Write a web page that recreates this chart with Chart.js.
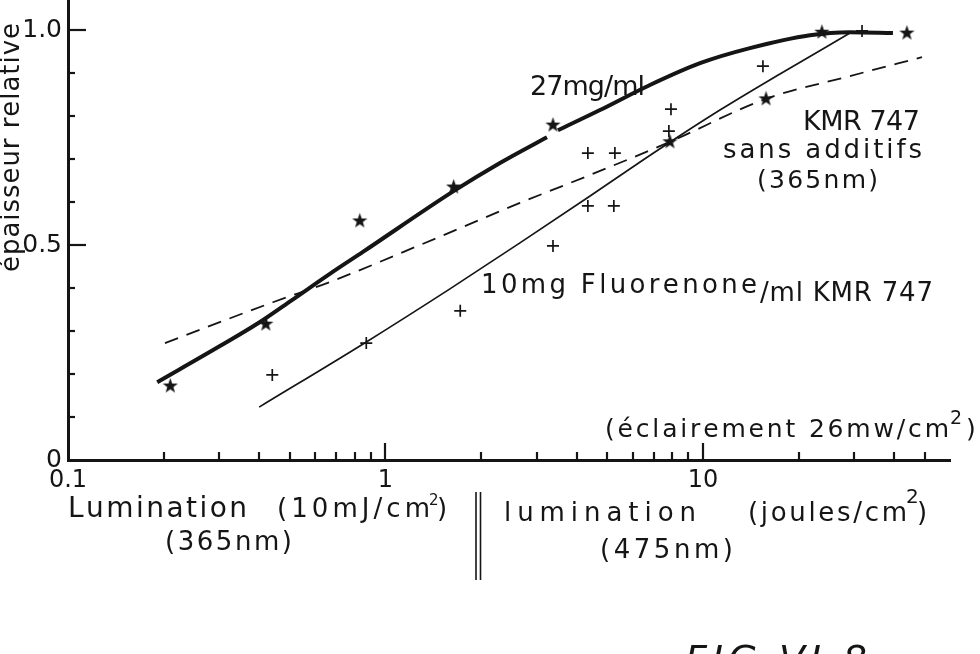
<!DOCTYPE html>
<html>
<head>
<meta charset="utf-8">
<script src="https://cdn.jsdelivr.net/npm/chart.js@4"></script>
<style>
  body { margin: 0; background: #fff; }
  canvas { display: block; }
</style>
</head>
<body>
<canvas id="fig" width="980" height="654"></canvas>
<script>
// Épaisseur relative vs lumination (log scale)

// 27 mg/ml : measured points (stars) and drawn curve
const starX27 = [0.21, 0.42, 0.83, 1.64, 3.37, 23.7, 43.9];
const starY27 = [0.172, 0.316, 0.556, 0.635, 0.779, 0.995, 0.993];
const curveX27 = [0.191, 0.301, 0.4025, 0.5075, 0.668, 0.849, 1.643, 2.294, 3.226, 3.35, 3.494, 4.74, 6.71, 9.79, 14.06, 21.73, 29.04, 39.67];
const curveY27 = [0.181, 0.265, 0.321, 0.372, 0.433, 0.484, 0.626, 0.691, 0.751, null, 0.767, 0.814, 0.870, 0.923, 0.958, 0.988, 0.995, 0.993];

// KMR 747 sans additifs (365 nm) : dashed curve and its stars
const starXKmr = [7.87, 15.8];
const starYKmr = [0.740, 0.840];
const curveXKmr = [0.202, 0.442, 0.668, 1.284, 2.652, 4.41, 7.87, 15.79, 29.04, 48.97];
const curveYKmr = [0.272, 0.367, 0.414, 0.500, 0.598, 0.663, 0.740, 0.840, 0.893, 0.937];

// 10 mg Fluorenone / ml KMR 747 : crosses and thin curve
const crossX = [0.44, 0.87, 1.72, 3.37, 4.34, 5.24, 4.34, 5.28, 7.93, 7.81, 15.45, 31.7];
const crossY = [0.198, 0.272, 0.347, 0.498, 0.591, 0.591, 0.714, 0.714, 0.816, 0.765, 0.916, 0.998];
const curveXFluo = [0.400, 0.868, 1.596, 2.652, 4.41, 7.22, 11.31, 17.48, 29.04];
const curveYFluo = [0.123, 0.274, 0.398, 0.505, 0.614, 0.721, 0.814, 0.898, 0.993];

// axes
const xTicks = [0.1, 0.2, 0.3, 0.4, 0.5, 0.6, 0.7, 0.8, 0.9, 1, 2, 3, 4, 5, 6, 7, 8, 9, 10, 20, 30, 40, 50];
const xMajor = [1, 10];
const xTickLabels = {0.1: "0.1", 1: "1", 10: "10"};
const yTicks = [0, 0.1, 0.2, 0.3, 0.4, 0.5, 0.6, 0.7, 0.8, 0.9, 1.0];
const yMajor = [0.5, 1.0];
const yTickLabels = {0: "0", 0.5: "0.5", 1: "1.0"};

const FONT = '"DejaVu Sans", sans-serif';
const INK = "#151515";

function pts(xs, ys) {
    return xs.map((x, i) => ({x: x, y: ys[i]}));
}

// filled five-point star marker
const starImg = document.createElement("canvas");
starImg.width = 17;
starImg.height = 17;
(function () {
    const c = starImg.getContext("2d");
    c.fillStyle = INK;
    c.beginPath();
    for (let i = 0; i < 10; i++) {
        const r = i % 2 ? 3.2 : 8;
        const a = -Math.PI / 2 + i * Math.PI / 5;
        c.lineTo(8.5 + r * Math.cos(a), 8.5 + r * Math.sin(a));
    }
    c.closePath();
    c.fill();
})();

// text spread to a given width, letter by letter
function drawFit(ctx, text, x, y, width) {
    const chars = [...text];
    const total = chars.reduce((s, c) => s + ctx.measureText(c).width, 0);
    const extra = chars.length > 1 ? (width - total) / (chars.length - 1) : 0;
    let cx = x;
    chars.forEach(c => {
        ctx.fillText(c, cx, y);
        cx += ctx.measureText(c).width + extra;
    });
}

const inwardTicks = {
    id: "inwardTicks",
    afterDraw(chart) {
        const ctx = chart.ctx;
        const xs = chart.scales.x, ys = chart.scales.y;
        const area = chart.chartArea;
        ctx.save();
        ctx.strokeStyle = INK;
        ctx.lineWidth = 2.2;
        xTicks.forEach(v => {
            if (v === 0.1) return;
            const px = Math.round(xs.getPixelForValue(v));
            const len = xMajor.includes(v) ? 17 : 8;
            ctx.beginPath();
            ctx.moveTo(px, area.bottom);
            ctx.lineTo(px, area.bottom - len);
            ctx.stroke();
        });
        yTicks.forEach(v => {
            if (v === 0) return;
            const py = Math.round(ys.getPixelForValue(v));
            const len = yMajor.includes(v) ? 18 : 7;
            ctx.beginPath();
            ctx.moveTo(area.left, py);
            ctx.lineTo(area.left + len, py);
            ctx.stroke();
        });
        ctx.restore();
    }
};

const annotations = {
    id: "annotations",
    afterDraw(chart) {
        const ctx = chart.ctx;
        ctx.save();
        ctx.fillStyle = INK;
        ctx.textBaseline = "alphabetic";
        ctx.textAlign = "left";

        // y axis title
        ctx.save();
        ctx.font = "26px " + FONT;
        ctx.translate(19, 272);
        ctx.rotate(-Math.PI / 2);
        drawFit(ctx, "épaisseur relative", 0, 0, 249);
        ctx.restore();

        ctx.font = "27px " + FONT;
        drawFit(ctx, "27mg/ml", 530, 95, 115);
        drawFit(ctx, "KMR 747", 803, 130, 117);
        ctx.font = "26px " + FONT;
        drawFit(ctx, "sans additifs", 723, 158, 199);
        ctx.font = "25px " + FONT;
        drawFit(ctx, "(365nm)", 757, 188, 121);

        ctx.font = "26px " + FONT;
        drawFit(ctx, "10mg Fluorenone", 481, 293, 276);
        drawFit(ctx, "/ml KMR 747", 760, 301, 173);

        ctx.font = "25px " + FONT;
        drawFit(ctx, "(éclairement 26mw/cm", 605, 437, 344);
        ctx.font = "19px " + FONT;
        ctx.fillText("2", 950, 424);
        ctx.font = "25px " + FONT;
        ctx.fillText(")", 966, 437);

        // bottom axis titles
        ctx.font = "28px " + FONT;
        drawFit(ctx, "Lumination", 68, 517, 179);
        ctx.font = "26px " + FONT;
        drawFit(ctx, "(10mJ/cm", 277, 517, 153);
        ctx.font = "15px " + FONT;
        ctx.fillText("2", 429, 505);
        ctx.font = "26px " + FONT;
        ctx.fillText(")", 437, 517);
        drawFit(ctx, "(365nm)", 165, 550, 127);

        drawFit(ctx, "lumination", 504, 521, 192);
        drawFit(ctx, "(joules/cm", 748, 521, 159);
        ctx.font = "20px " + FONT;
        ctx.fillText("2", 906, 503);
        ctx.font = "26px " + FONT;
        ctx.fillText(")", 917, 521);
        drawFit(ctx, "(475nm)", 600, 558, 133);

        ctx.strokeStyle = INK;
        ctx.lineWidth = 1.6;
        [476, 480.5].forEach(x => {
            ctx.beginPath();
            ctx.moveTo(x, 492);
            ctx.lineTo(x, 580);
            ctx.stroke();
        });

        ctx.font = "italic 38px " + FONT;
        drawFit(ctx, "FIG VI 8", 685, 672, 182);
        ctx.restore();
    }
};

const lineBase = {
    showLine: true,
    pointRadius: 0,
    borderColor: INK,
    fill: false,
    spanGaps: false,
    cubicInterpolationMode: "monotone",
    clip: false
};

const figChart = new Chart(document.getElementById("fig"), {
    type: "scatter",

    data: {
        datasets: [
            Object.assign({}, lineBase, {
                label: "27mg/ml",
                data: pts(curveX27, curveY27),
                borderWidth: 4
            }),
            Object.assign({}, lineBase, {
                label: "KMR 747 sans additifs",
                data: pts(curveXKmr, curveYKmr),
                borderWidth: 1.8,
                borderDash: [14, 9]
            }),
            Object.assign({}, lineBase, {
                label: "10mg Fluorenone/ml KMR 747",
                data: pts(curveXFluo, curveYFluo),
                borderWidth: 1.7
            }),
            {
                label: "27mg/ml points",
                data: pts(starX27, starY27),
                pointStyle: starImg,
                pointRadius: 8,
                clip: false
            },
            {
                label: "KMR 747 points",
                data: pts(starXKmr, starYKmr),
                pointStyle: starImg,
                pointRadius: 8,
                clip: false
            },
            {
                label: "Fluorenone points",
                data: pts(crossX, crossY),
                pointStyle: "cross",
                pointRadius: 6,
                borderWidth: 1.7,
                borderColor: INK,
                clip: false
            }
        ]
    },

    options: {
        responsive: false,
        animation: false,
        devicePixelRatio: 1,
        layout: {
            autoPadding: false,
            padding: {left: 0, top: 0, right: 30, bottom: 154}
        },
        plugins: {
            legend: {display: false},
            tooltip: {enabled: false}
        },
        scales: {
            x: {
                type: "logarithmic",
                min: 0.1,
                max: 60,
                grid: {display: false, drawTicks: false},
                border: {display: true, color: INK, width: 3},
                afterBuildTicks: s => { s.ticks = xTicks.map(v => ({value: v})); },
                afterFit: s => {
                    s.height = 40;
                    s.paddingLeft = 0;
                    s.paddingRight = 0;
                },
                ticks: {
                    autoSkip: false,
                    maxRotation: 0,
                    padding: 6,
                    color: INK,
                    font: {family: FONT, size: 24},
                    callback: v => xTickLabels[v] || ""
                }
            },
            y: {
                min: 0,
                max: 1.07,
                grid: {display: false, drawTicks: false},
                border: {display: true, color: INK, width: 3},
                afterBuildTicks: s => { s.ticks = yTicks.map(v => ({value: v})); },
                afterFit: s => {
                    s.width = 68;
                    s.paddingTop = 0;
                    s.paddingBottom = 0;
                },
                ticks: {
                    autoSkip: false,
                    padding: 6,
                    color: INK,
                    font: {family: FONT, size: 25},
                    callback: v => yTickLabels[v] || ""
                }
            }
        }
    },

    plugins: [inwardTicks, annotations]
});
</script>
</body>
</html>
